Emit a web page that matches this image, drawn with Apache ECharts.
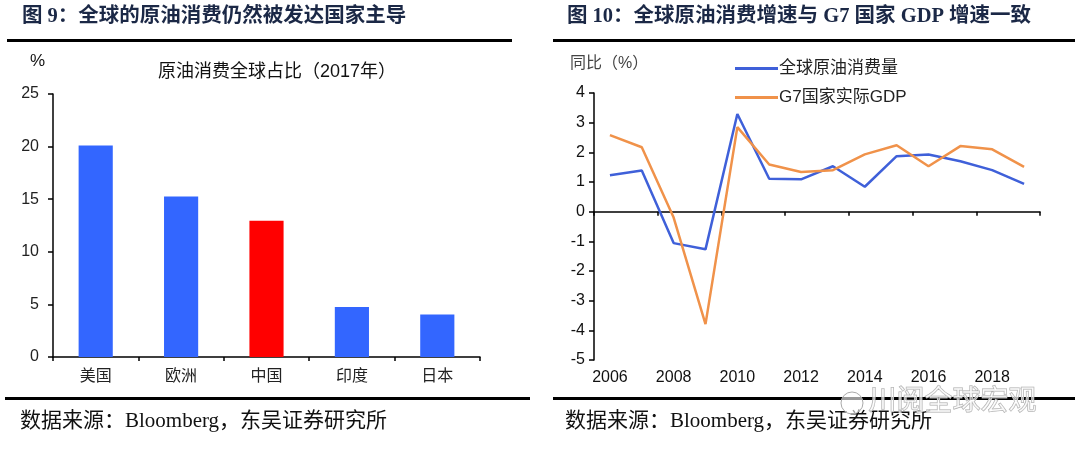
<!DOCTYPE html>
<html>
<head>
<meta charset="utf-8">
<script src="https://cdn.jsdelivr.net/npm/echarts@6/dist/echarts.min.js"></script>
<style>
html,body{margin:0;padding:0;background:#fff;}
#c{width:1080px;height:449px;}
</style>
</head>
<body>
<div id="c"></div>
<script>
// ---- Data ----
const barCategories = ['美国', '欧洲', '中国', '印度', '日本'];
const barValues = [20.1, 15.25, 12.95, 4.76, 4.04];
const barColors = ['#3366FF', '#3366FF', '#FF0000', '#3366FF', '#3366FF'];
const barYTicks = [0, 5, 10, 15, 20, 25];

const years = ['2006','2007','2008','2009','2010','2011','2012','2013','2014','2015','2016','2017','2018','2019'];
const oilConsumption = [1.23, 1.39, -1.06, -1.27, 3.29, 1.11, 1.09, 1.53, 0.84, 1.87, 1.93, 1.70, 1.40, 0.94];
const g7GDP = [2.58, 2.17, -0.2, -3.79, 2.85, 1.59, 1.34, 1.40, 1.93, 2.24, 1.53, 2.21, 2.10, 1.51];
const lineYTicks = [-5, -4, -3, -2, -1, 0, 1, 2, 3, 4];

const titleLeft = '图 9：全球的原油消费仍然被发达国家主导';
const titleRight = '图 10：全球原油消费增速与 G7 国家 GDP 增速一致';
const sourceText = '数据来源：Bloomberg，东吴证券研究所';

const serif = '"Liberation Serif", "DejaVu Serif", "Noto Sans CJK SC", serif';
const sans = '"Liberation Sans", Arial, "Noto Sans CJK SC", sans-serif';
const titleColor = '#1b2846';

const chart = echarts.init(document.getElementById('c'), null, {renderer: 'canvas'});

const option = {
  backgroundColor: '#fff',
  animation: false,
  textStyle: {fontFamily: sans},
  legend: {
    orient: 'vertical',
    left: 730,
    top: 55,
    itemWidth: 43,
    itemHeight: 3,
    itemGap: 12,
    icon: 'rect',
    textStyle: {fontSize: 17, color: '#222', fontFamily: sans, padding: [0, 0, 0, -4]},
    data: ['全球原油消费量', 'G7国家实际GDP']
  },
  grid: [
    {left: 53, right: 600, top: 94, bottom: 92},
    {left: 594, right: 40, top: 93, bottom: 89}
  ],
  xAxis: [
    {
      gridIndex: 0, type: 'category', data: barCategories,
      axisLine: {lineStyle: {color: '#000', width: 1.5}},
      axisTick: {show: true, inside: false, length: 4, lineStyle: {color: '#000', width: 1.5}},
      axisLabel: {fontSize: 16, color: '#222', margin: 12, fontFamily: sans}
    },
    {
      gridIndex: 1, type: 'category', data: years, position: 'bottom',
      axisLine: {show: false, onZero: false},
      axisTick: {show: false},
      axisLabel: {fontSize: 16, color: '#111', margin: 10, interval: 1, fontFamily: sans}
    },
    {
      gridIndex: 1, type: 'category', data: years, position: 'bottom',
      axisLine: {show: true, onZero: true, lineStyle: {color: '#000', width: 1.5}},
      axisTick: {show: true, interval: 1, inside: false, length: 4, lineStyle: {color: '#000', width: 1.5}},
      axisLabel: {show: false}
    }
  ],
  yAxis: [
    {
      gridIndex: 0, type: 'value', min: barYTicks[0], max: barYTicks[barYTicks.length - 1], interval: 5,
      splitLine: {show: false},
      axisLine: {show: true, lineStyle: {color: '#000', width: 1.5}},
      axisTick: {show: true, length: 5, lineStyle: {color: '#000', width: 1.5}},
      axisLabel: {fontSize: 16, color: '#222', margin: 14, fontFamily: sans}
    },
    {
      gridIndex: 1, type: 'value', min: lineYTicks[0], max: lineYTicks[lineYTicks.length - 1], interval: 1,
      splitLine: {show: false},
      axisLine: {show: true, onZero: false, lineStyle: {color: '#000', width: 1.5}},
      axisTick: {show: true, length: 5, lineStyle: {color: '#000', width: 1.5}},
      axisLabel: {fontSize: 16, color: '#111', margin: 9, fontFamily: sans}
    }
  ],
  series: [
    {
      type: 'bar', xAxisIndex: 0, yAxisIndex: 0,
      barWidth: '40%',
      data: barValues.map((v, i) => ({value: v, itemStyle: {color: barColors[i]}}))
    },
    {
      name: '全球原油消费量', type: 'line', xAxisIndex: 1, yAxisIndex: 1,
      data: oilConsumption, symbol: 'none', color: '#3F60D9',
      lineStyle: {width: 2.5, color: '#3F60D9'}
    },
    {
      name: 'G7国家实际GDP', type: 'line', xAxisIndex: 1, yAxisIndex: 1,
      data: g7GDP, symbol: 'none', color: '#F0924A',
      lineStyle: {width: 2.5, color: '#F0924A'}
    }
  ],
  graphic: [
    {type: 'text', left: 22, top: 6, style: {text: titleLeft, font: 'bold 20.5px ' + serif, fill: titleColor}},
    {type: 'text', left: 567, top: 6, style: {text: titleRight, font: 'bold 20.5px ' + serif, fill: titleColor}},
    {type: 'rect', shape: {x: 7, y: 39, width: 505, height: 3}, style: {fill: '#000'}},
    {type: 'rect', shape: {x: 553, y: 39, width: 522, height: 3}, style: {fill: '#000'}},
    {type: 'rect', shape: {x: 5, y: 397, width: 525, height: 3}, style: {fill: '#000'}},
    {type: 'rect', shape: {x: 553, y: 397, width: 522, height: 3}, style: {fill: '#000'}},
    {type: 'text', left: 20, top: 411, style: {text: sourceText, font: '21px ' + serif, fill: '#111'}},
    {type: 'text', left: 565, top: 411, style: {text: sourceText, font: '21px ' + serif, fill: '#111'}},
    {type: 'text', left: 30, top: 53, style: {text: '%', font: '17px ' + sans, fill: '#111'}},
    {type: 'text', left: 158, top: 63, style: {text: '原油消费全球占比（2017年）', font: '18px ' + sans, fill: '#111'}},
    {type: 'text', left: 570, top: 56, style: {text: '同比（%）', font: '16px ' + sans, fill: '#444'}},
    {type: 'text', left: 868, top: 388, style: {text: '川阅全球宏观', font: '28px ' + sans, fill: 'rgba(255,255,255,0.6)', stroke: '#aaa', lineWidth: 1}},
    {type: 'circle', shape: {cx: 852, cy: 403, r: 11}, style: {fill: 'rgba(255,255,255,0.6)', stroke: '#aaa', lineWidth: 1}}
  ]
};
chart.setOption(option);
</script>
</body>
</html>
